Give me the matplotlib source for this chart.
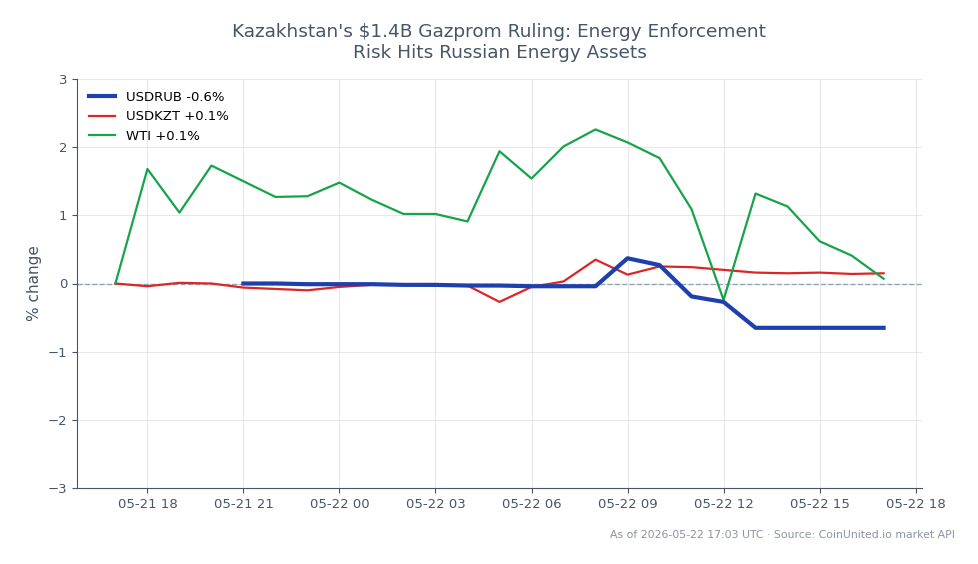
import matplotlib
matplotlib.use("Agg")
import matplotlib.pyplot as plt
import matplotlib.dates as mdates
import pandas as pd

times = pd.date_range("2026-05-21 17:00", "2026-05-22 17:00", freq="h")

wti = [0.0, 1.68, 1.04, 1.73, 1.50, 1.27, 1.28, 1.48, 1.23, 1.02, 1.02, 0.91,
       1.94, 1.54, 2.01, 2.26, 2.07, 1.84, 1.09, -0.24, 1.32, 1.13, 0.62, 0.41, 0.07]
usdkzt = [0.0, -0.04, 0.01, 0.0, -0.06, -0.08, -0.10, -0.05, -0.02, -0.02, -0.03, -0.03,
          -0.27, -0.05, 0.03, 0.35, 0.13, 0.25, 0.24, 0.20, 0.16, 0.15, 0.16, 0.14, 0.15]
usdrub_times = times[4:]
usdrub = [0.0, 0.0, -0.01, -0.01, -0.01, -0.02, -0.02, -0.03, -0.03, -0.04, -0.04, -0.04,
          0.37, 0.27, -0.19, -0.27, -0.65, -0.65, -0.65, -0.65, -0.65]

labels = ["USDRUB -0.6%", "USDKZT +0.1%", "WTI +0.1%"]
title = "Kazakhstan's $1.4B Gazprom Ruling: Energy Enforcement\nRisk Hits Russian Energy Assets"
footnote = "As of 2026-05-22 17:03 UTC · Source: CoinUnited.io market API"

slate = "#475569"
fig = plt.figure(figsize=(9.79, 5.64), dpi=100)
ax = fig.add_axes([77/979, 1-488/564, (922-77)/979, (488-79)/564])

ax.plot(usdrub_times, usdrub, color="#1e40af", lw=3, label=labels[0], zorder=4)
ax.plot(times, usdkzt, color="#dc2626", lw=1.6, label=labels[1], zorder=3)
ax.plot(times, wti, color="#16a34a", lw=1.6, label=labels[2], zorder=3)
ax.axhline(0, color="#94a3b8", lw=1, ls="--", zorder=1)

ax.set_ylim(-3, 3)
ax.set_yticks([-3, -2, -1, 0, 1, 2, 3])
ax.set_yticklabels(["\u22123", "\u22122", "\u22121", "0", "1", "2", "3"])
ax.xaxis.set_major_locator(mdates.HourLocator(byhour=[0, 3, 6, 9, 12, 15, 18, 21]))
ax.xaxis.set_major_formatter(mdates.DateFormatter("%m-%d %H"))
ax.grid(True, color="#e5e7eb", lw=0.7)
ax.set_axisbelow(True)
for s in ["top", "right"]:
    ax.spines[s].set_visible(False)
for s in ["left", "bottom"]:
    ax.spines[s].set_color(slate)
ax.tick_params(colors=slate, labelsize=9.5)
ax.set_ylabel("% change", color=slate, fontsize=11)
ax.set_title(title, color=slate, fontsize=13.3, pad=15)
leg = ax.legend(loc="upper left", frameon=False, fontsize=9.5)
fig.text(955/979, 1-535/564, footnote, ha="right", va="center", color="#8a94a3", fontsize=7.8)
fig.savefig("out.png", dpi=100)
